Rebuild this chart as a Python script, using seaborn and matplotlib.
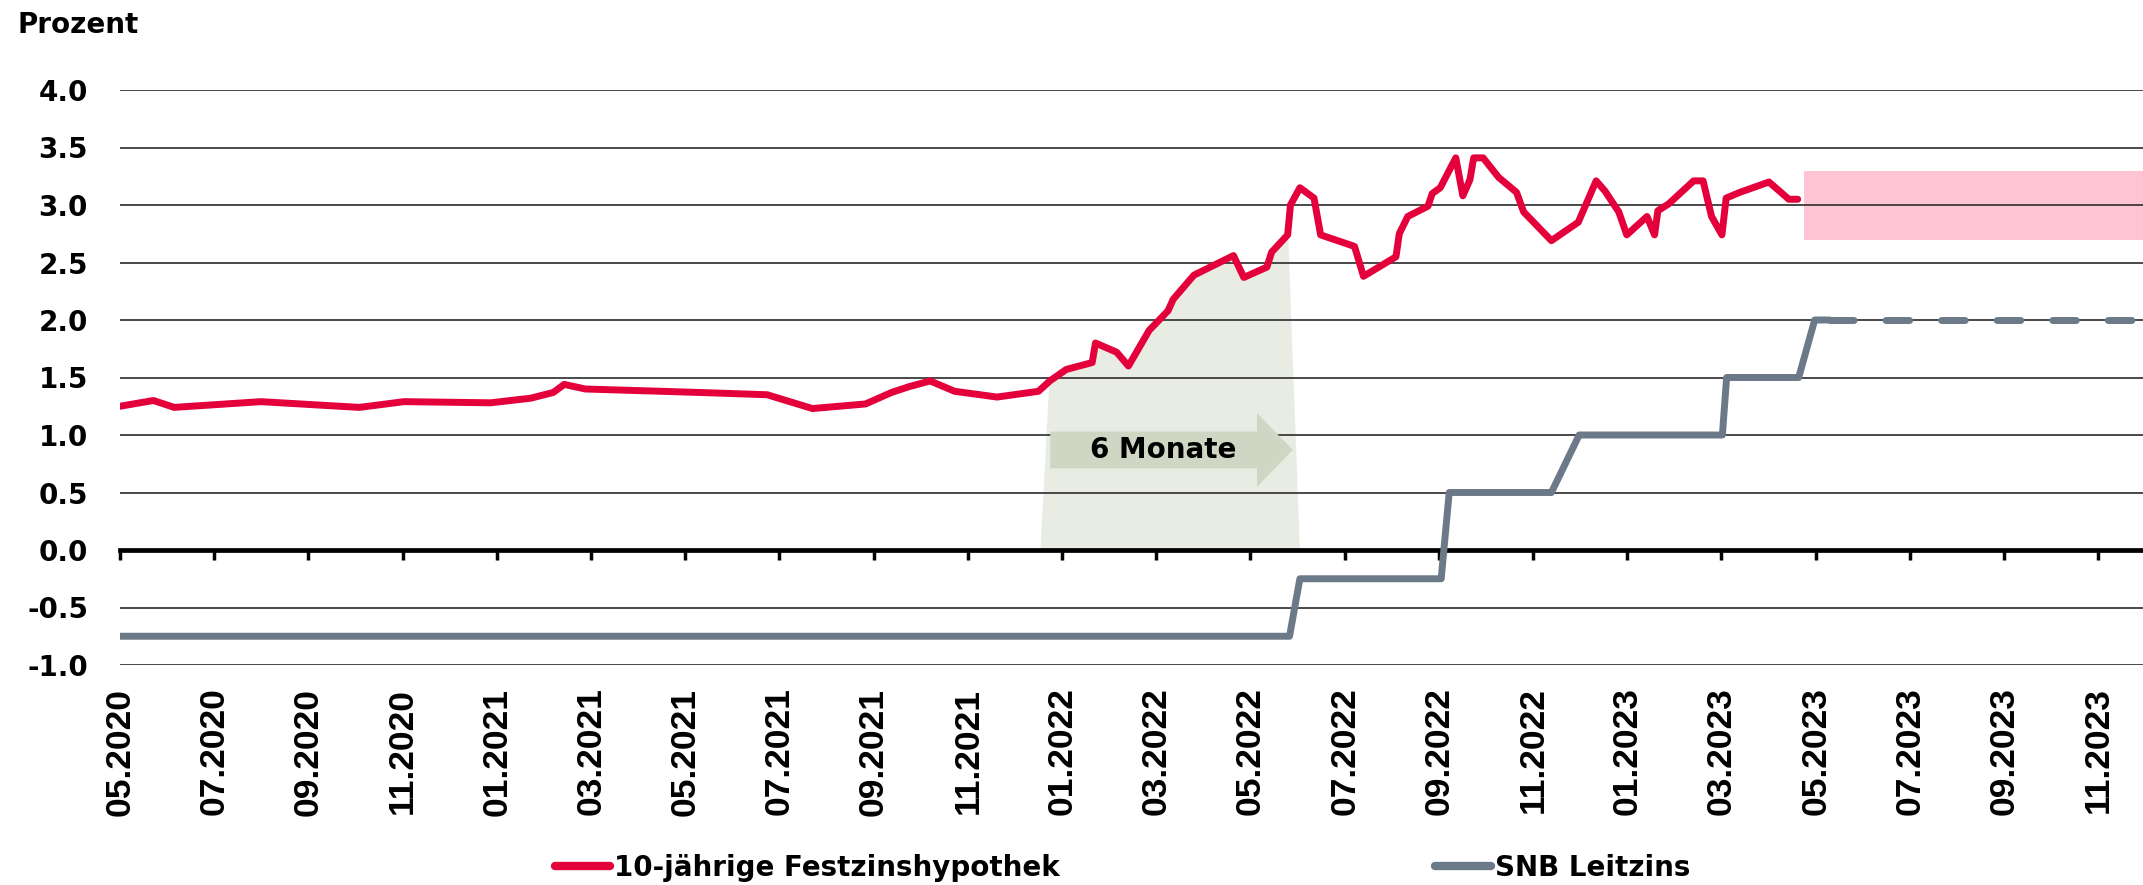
import numpy as np
import pandas as pd
import matplotlib
matplotlib.use("Agg")
import matplotlib.pyplot as plt
import seaborn as sns

# Monate seit 05.2020
tick_monate = list(range(0, 43, 2))
tick_labels = ["05.2020", "07.2020", "09.2020", "11.2020", "01.2021", "03.2021",
               "05.2021", "07.2021", "09.2021", "11.2021", "01.2022", "03.2022",
               "05.2022", "07.2022", "09.2022", "11.2022", "01.2023", "03.2023",
               "05.2023", "07.2023", "09.2023", "11.2023"]

hypo_monat = [0, 0.71, 1.15, 2.99, 5.08, 6.03, 7.87, 8.72, 9.2, 9.43,
              9.88, 12.3, 13.74, 14.70, 15.83, 16.38, 16.75, 17.2, 17.72, 18.62,
              19.5, 19.74, 20.09, 20.64, 20.71, 21.16, 21.41, 21.85, 22.25, 22.36,
              22.8, 23.64, 23.86, 24.35, 24.45, 24.79, 24.85, 25.05, 25.35, 25.49,
              26.21, 26.4, 27.09, 27.16, 27.34, 27.77, 27.86, 28.03, 28.36, 28.51,
              28.66, 28.74, 28.94, 29.27, 29.65, 29.8, 30.39, 30.96, 31.34, 31.53,
              31.82, 31.99, 32.42, 32.58, 32.65, 32.88, 33.41, 33.61, 33.79, 34.01,
              34.1, 34.39, 35.01, 35.43, 35.62]
hypo_zins = [1.25, 1.30, 1.24, 1.29, 1.24, 1.29, 1.28, 1.32, 1.37, 1.44,
             1.40, 1.37, 1.35, 1.23, 1.27, 1.37, 1.42, 1.47, 1.38, 1.33,
             1.38, 1.47, 1.57, 1.63, 1.80, 1.72, 1.60, 1.91, 2.08, 2.18,
             2.39, 2.56, 2.37, 2.46, 2.59, 2.74, 3.00, 3.15, 3.06, 2.74,
             2.64, 2.38, 2.55, 2.75, 2.90, 2.99, 3.10, 3.15, 3.41, 3.08,
             3.22, 3.41, 3.41, 3.24, 3.11, 2.94, 2.69, 2.85, 3.21, 3.12,
             2.94, 2.74, 2.90, 2.74, 2.95, 3.01, 3.21, 3.21, 2.90, 2.74,
             3.06, 3.11, 3.20, 3.05, 3.05]

snb_monat = [0, 24.83, 25.05, 28.05, 28.22, 30.39, 30.98, 34.02, 34.11, 35.64, 35.98, 36.3]
snb_zins = [-0.75, -0.75, -0.25, -0.25, 0.5, 0.5, 1.0, 1.0, 1.5, 1.5, 2.0, 2.0]
snb_prog_monat = [36.3, 42.95]
snb_prog_zins = [2.0, 2.0]

# Prognoseband Hypothek
band_von, band_bis = 35.75, 42.95
band_unten, band_oben = 2.7, 3.3

# Schattierung "6 Monate"
schatten_von, schatten_bis = 19.72, 24.79
pfeil_von, pfeil_bis, pfeil_y = 19.75, 24.9, 0.87

ROT = "#E4003B"
GRAU = "#6C7989"
ROSA = "#FFC4D3"
SCHATTEN = "#E9ECE2"
PFEIL = "#CFD7C4"

sns.set_theme(style="white")
plt.rcParams["font.family"] = ["DejaVu Sans"]
plt.rcParams["text.color"] = "black"
plt.rcParams["xtick.color"] = "black"
plt.rcParams["ytick.color"] = "black"

fig = plt.figure(figsize=(21.43, 8.85), dpi=100)
ax = fig.add_axes([120 / 2143, 1 - 665 / 885, 1 - 120 / 2143, (665 - 90) / 885])

for s in ["top", "right", "left"]:
    ax.spines[s].set_visible(False)
ax.spines["bottom"].set_position(("data", 0))
ax.spines["bottom"].set_linewidth(3.4)
ax.spines["bottom"].set_color("black")
ax.spines["bottom"].set_zorder(3)

hypo = pd.DataFrame({"monat": hypo_monat, "zins": hypo_zins})
snb = pd.DataFrame({"monat": snb_monat, "zins": snb_zins})

# Schattierte Flaeche unter der Hypothekenkurve
m = np.array(hypo_monat)
z = np.array(hypo_zins)
sel = (m >= schatten_von) & (m <= schatten_bis)
sx = np.concatenate([[schatten_von - 0.19, schatten_von], m[sel], [schatten_bis + 0.25]])
sy = np.concatenate([[0, np.interp(schatten_von, m, z)], z[sel], [0]])
ax.fill_between(sx, 0, sy, color=SCHATTEN, lw=0, zorder=0.3)

ax.fill_between([band_von, band_bis], band_unten, band_oben, color=ROSA, lw=0, zorder=0.3)

ax.arrow(pfeil_von, pfeil_y, pfeil_bis - pfeil_von, 0, width=0.32, head_width=0.64,
         head_length=0.76, length_includes_head=True, color=PFEIL, lw=0, zorder=1.5)
ax.text((pfeil_von + 24.14) / 2 + 0.2, pfeil_y, "6 Monate", ha="center", va="center",
        fontsize=20, fontweight="bold", zorder=3)

sns.lineplot(data=hypo, x="monat", y="zins", color=ROT, lw=5, sort=False,
             estimator=None, ax=ax, label="10-jährige Festzinshypothek", zorder=4)
sns.lineplot(data=snb, x="monat", y="zins", color=GRAU, lw=5, sort=False,
             estimator=None, ax=ax, label="SNB Leitzins", zorder=4)
sns.lineplot(x=snb_prog_monat, y=snb_prog_zins, color=GRAU, lw=5, sort=False,
             estimator=None, ax=ax, linestyle=(0, (3.4, 4.6)),
             dash_capstyle="round", zorder=4)

handles, labels = ax.get_legend_handles_labels()
if ax.get_legend() is not None:
    ax.get_legend().remove()

ax.set_xlim(0, 42.95)
ax.set_ylim(-1, 4)
ax.set_xlabel("")
ax.set_ylabel("")

yticks = np.arange(-1, 4.01, 0.5)
ax.set_yticks(yticks)
ax.set_yticklabels([f"{v:.1f}" for v in yticks], fontsize=20, fontweight="bold")
ax.yaxis.grid(True, color="#3a3a3a", lw=1.3)
ax.set_axisbelow(True)

ax.set_xticks(tick_monate)
ax.set_xticklabels(tick_labels, rotation=90, fontsize=25.5, fontweight="bold",
                   fontfamily="Liberation Sans")
ax.tick_params(axis="x", direction="out", length=7, width=2.5, pad=92,
               color="black", bottom=True)
ax.tick_params(axis="y", length=0, pad=23)

fig.text(18 / 2143, 1 - 25 / 885, "Prozent", fontsize=20, fontweight="bold",
         ha="left", va="center")

leg = fig.legend(handles, labels, loc="center", bbox_to_anchor=(0.5238, 0.0192), ncol=2,
                 frameon=False, prop={"size": 20, "weight": "bold"}, handlelength=2.0,
                 handletextpad=0.15, columnspacing=13.5, borderpad=0)
for h in leg.get_lines():
    h.set_linewidth(6)
    h.set_solid_capstyle("round")

fig.savefig("out.png", dpi=100, facecolor="white")
